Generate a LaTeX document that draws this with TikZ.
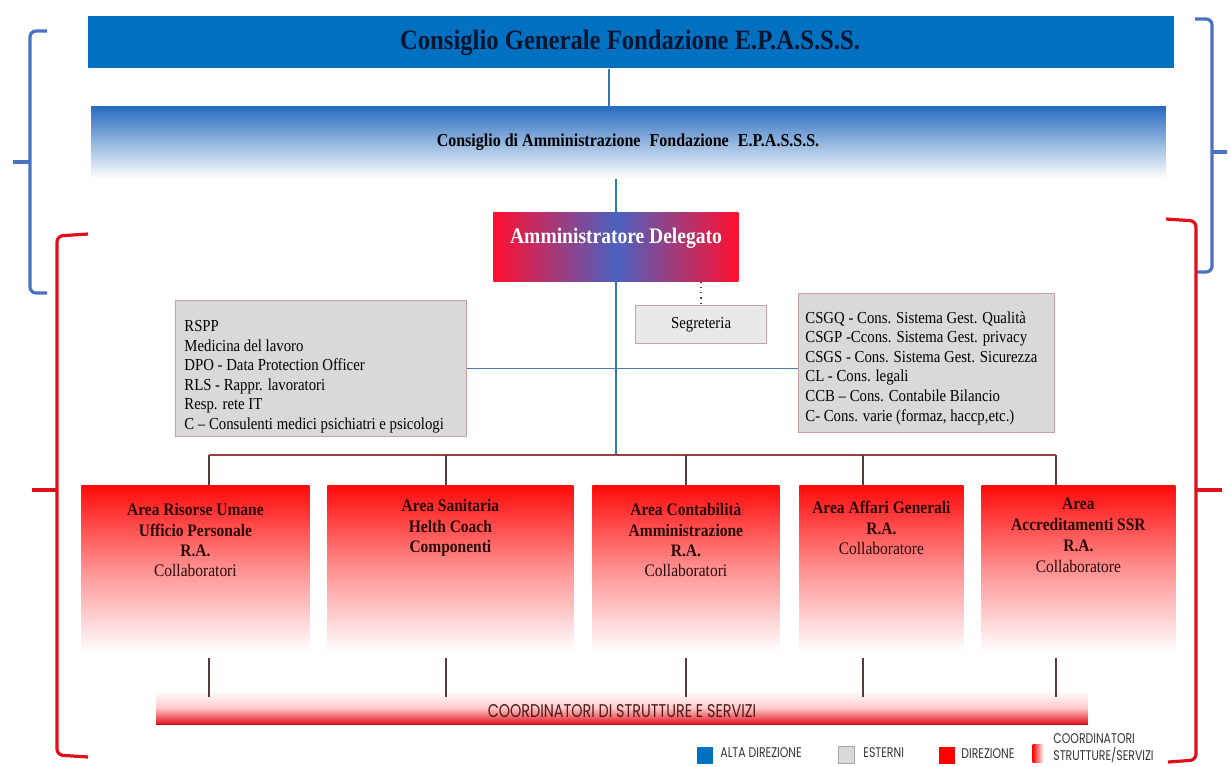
\documentclass[tikz,border=0pt]{standalone}
\usepackage{fontspec}
\setmainfont{Liberation Serif}[FakeStretch=0.88]
\newfontfamily\geo{Poppins}[FakeStretch=0.78]
\usetikzlibrary{calc}
\definecolor{cgblue}{HTML}{0070C0}
\definecolor{barblue}{HTML}{2A6EC0}
\definecolor{adblue}{HTML}{4A62C0}
\definecolor{adred}{HTML}{FF1030}
\definecolor{arred}{HTML}{FF0A0A}
\definecolor{brblue}{HTML}{4A72C0}
\definecolor{brred}{HTML}{E0101A}
\definecolor{lnblue}{HTML}{2E78B8}
\definecolor{navy}{HTML}{0B1530}
\definecolor{grayfill}{HTML}{D9D9D9}
\definecolor{grayborder}{HTML}{C9A0A0}
\definecolor{segfill}{HTML}{E9E9E9}
\definecolor{redline}{HTML}{9A4040}
\definecolor{dropline}{HTML}{5A3A3A}
\definecolor{areatext}{HTML}{2A0808}
\definecolor{legtext}{HTML}{333333}
\definecolor{coordtext}{HTML}{4A1A1A}
\tikzset{
  box/.style={inner sep=0pt, anchor=north west, draw=none},
  areabox/.style={box, top color=arred, bottom color=white, middle color=arred!45!white, minimum height=83.5pt},
  areatxt/.style={anchor=north, align=center, inner sep=0pt, text=areatext, font=\fontsize{8.8}{10.2}\selectfont},
  grayb/.style={box, fill=grayfill, draw=grayborder, line width=0.6pt},
  graytxt/.style={anchor=north west, inner sep=0pt, align=left, font=\fontsize{8.4}{9.8}\selectfont},
  blueconn/.style={draw=lnblue, line width=1.1pt},
  thinblue/.style={draw=lnblue!70!gray, line width=0.6pt},
  redconn/.style={draw=redline, line width=0.6pt},
  dropconn/.style={draw=dropline, line width=0.6pt},
  bluebrace/.style={draw=brblue, line width=1.6pt, rounded corners=3pt},
  redbrace/.style={draw=brred, line width=1.6pt, rounded corners=3pt},
  legsq/.style={inner sep=0pt, minimum width=8pt, minimum height=8.5pt},
  legtxt/.style={inner sep=0pt, text=legtext, font=\geo\fontsize{7}{8.6}\selectfont},
}
\begin{document}
\begin{tikzpicture}[x=0.5pt,y=-0.5pt]
\useasboundingbox[fill=white] (0,0) rectangle (1230,766);

% braces
\draw[bluebrace] (47,31) -- (30,31) -- (30,293) -- (47,293);
\draw[bluebrace] (30,162) -- (13,162);
\draw[redbrace] (88,234) -- (57,236) -- (57,755) -- (88,757);
\draw[redbrace] (57,490) -- (32,490);
\draw[bluebrace] (1195,19) -- (1212,19) -- (1212,272) -- (1195,272);
\draw[bluebrace] (1212,152) -- (1227,152);
\draw[redbrace] (1166,219) -- (1196,221) -- (1196,760) -- (1168,762);
\draw[redbrace] (1196,490) -- (1222,490);

% top bars
\node[box, fill=cgblue, minimum width=543pt, minimum height=26pt] (cg) at (88,16) {};
\node[text=navy, font=\fontsize{14}{16}\selectfont\bfseries, inner sep=0pt] (cgt) at (630,43) {Consiglio Generale Fondazione E.P.A.S.S.S.};
\node[box, top color=barblue, bottom color=white, minimum width=537pt, minimum height=35.5pt] (cda) at (91,107) {};
\draw[barblue, line width=0.8pt] (cda.north west) -- (cda.north east);
\node[font=\fontsize{9.1}{11}\selectfont\bfseries, inner sep=0pt] (cdat) at (628,142) {Consiglio di Amministrazione\enspace Fondazione\enspace E.P.A.S.S.S.};

% AD
\node[box, left color=adred, right color=adred, middle color=adblue, minimum width=122.5pt, minimum height=34.5pt] (ad) at (493,212) {};
\node[text=white, font=\fontsize{11.1}{13}\selectfont\bfseries, inner sep=0pt] (adt) at (616,238) {Amministratore Delegato};

% external boxes
\node[box, fill=segfill, draw=grayborder, line width=0.6pt, minimum width=65.5pt, minimum height=19pt, font=\fontsize{8.4}{9.8}\selectfont] (seg) at (635,305) {Segreteria};
\node[grayb, minimum width=145.5pt, minimum height=68pt] (ext1) at (175,300) {};
\node[graytxt] (ext1t) at (184,320) {RSPP\\Medicina del lavoro\\DPO - Data Protection Officer\\RLS - Rappr. lavoratori\\Resp. rete IT\\C -- Consulenti medici psichiatri e psicologi};
\node[grayb, minimum width=128pt, minimum height=69.5pt] (ext2) at (798,293) {};
\node[graytxt] (ext2t) at (805,311) {CSGQ - Cons. Sistema Gest. Qualità\\CSGP -Ccons. Sistema Gest. privacy\\CSGS - Cons. Sistema Gest. Sicurezza\\CL - Cons. legali\\CCB -- Cons. Contabile Bilancio\\C- Cons. varie (formaz, haccp,etc.)};

% area boxes
\node[areabox, minimum width=114pt] (a1) at (81,485) {};
\node[areabox, minimum width=123pt] (a2) at (327,485) {};
\node[areabox, minimum width=93.5pt] (a3) at (592,485) {};
\node[areabox, minimum width=82pt] (a4) at (799,485) {};
\node[areabox, minimum width=97pt] (a5) at (981,485) {};
\node[areatxt] (a1t) at ([yshift=-9pt]a1.north) {\bfseries Area Risorse Umane\\\bfseries Ufficio Personale\\\bfseries R.A.\\Collaboratori};
\node[areatxt] (a2t) at ([yshift=-7pt]a2.north) {\bfseries Area Sanitaria\\\bfseries Helth Coach\\\bfseries Componenti};
\node[areatxt] (a3t) at ([yshift=-9pt]a3.north) {\bfseries Area Contabilità\\\bfseries Amministrazione\\\bfseries R.A.\\Collaboratori};
\node[areatxt] (a4t) at ([yshift=-8pt]a4.north) {\bfseries Area Affari Generali\\\bfseries R.A.\\Collaboratore};
\node[areatxt, font=\fontsize{8.8}{10.6}\selectfont] (a5t) at ([yshift=-6pt]a5.north) {\bfseries Area\\\bfseries Accreditamenti SSR\\\bfseries R.A.\\Collaboratore};

% coordinators bar
\node[box, top color=white, bottom color=brred, middle color=red!20!white, minimum width=465.5pt, minimum height=17pt] (coord) at (156,690) {};
\draw[brred!80!black, line width=0.6pt] (coord.south west) -- (coord.south east);
\node[text=coordtext, font=\geo\fontsize{9.2}{10}\selectfont, inner sep=0pt] (coordt) at (622,711) {COORDINATORI DI STRUTTURE E SERVIZI};

% connectors
\coordinate (cgx) at (609,0);
\draw[blueconn] (cg.south -| cgx) -- (cda.north -| cgx);
\draw[blueconn] (cda.south -| ad.north) -- (ad.north);
\coordinate (d1) at (209,455);
\coordinate (d2) at (446,455);
\coordinate (d3) at (686,455);
\coordinate (d4) at (863,455);
\coordinate (d5) at (1056,455);
\draw[blueconn] (ad.south) -- (ad.south |- d1);
\draw[dropconn, dotted, line width=0.7pt] (ad.south -| seg.north) -- (seg.north);
\draw[thinblue] (ext1.east) -- (ext1.east -| ext2.west);
\draw[redconn] (d1) -- (d5);
\foreach \i in {1,...,5}{
  \draw[dropconn] (d\i) -- (d\i |- a\i.north);
  \draw[dropconn] ($(d\i |- a\i.south)+(0,5)$) -- ($(d\i |- coord.north)+(0,7)$);
}

% legend
\node[legsq, fill=cgblue] (l1) at (705,755) {};
\node[legtxt, anchor=west] (l1t) at (720,753) {ALTA DIREZIONE};
\node[legsq, fill=grayfill, draw=gray!70, line width=0.4pt] (l2) at (846,755) {};
\node[legtxt, anchor=west] (l2t) at (863,753) {ESTERNI};
\node[legsq, fill=red] (l3) at (947,755) {};
\node[legtxt, anchor=west] (l3t) at (961,754) {DIREZIONE};
\node[legsq, minimum width=5.5pt, minimum height=9pt, left color=red, right color=white] (l4) at (1038,753) {};
\node[legtxt, anchor=north west, align=left] (l4t) at (1053,733) {COORDINATORI\\STRUTTURE/SERVIZI};
\end{tikzpicture}
\end{document}
